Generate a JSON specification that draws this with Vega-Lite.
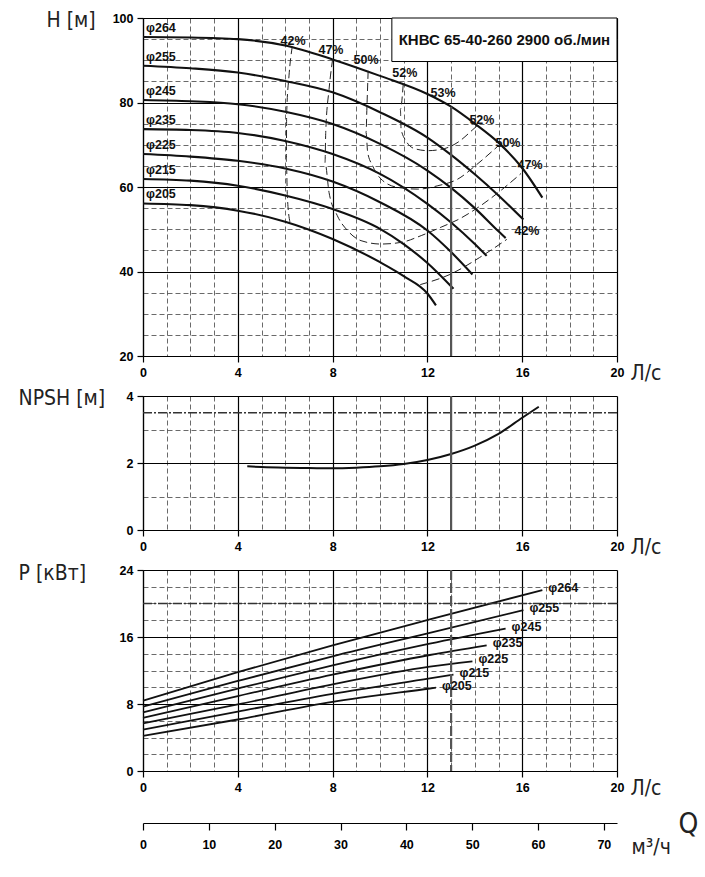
{
  "$schema": "https://vega.github.io/schema/vega-lite/v6.json",
  "background": "white",
  "padding": {"left": 18, "top": 9, "right": 5, "bottom": 5},
  "bounds": "flush",
  "spacing": 40,
  "datasets": {
    "H": [
      {"d": "φ264", "q": 0, "h": 95.5}, {"d": "φ264", "q": 2, "h": 95.4}, {"d": "φ264", "q": 4, "h": 95.0}, {"d": "φ264", "q": 6, "h": 93.5},
      {"d": "φ264", "q": 8, "h": 90.2}, {"d": "φ264", "q": 10, "h": 86.3}, {"d": "φ264", "q": 12, "h": 82.0}, {"d": "φ264", "q": 13, "h": 79.0},
      {"d": "φ264", "q": 14, "h": 75.0}, {"d": "φ264", "q": 15, "h": 70.5}, {"d": "φ264", "q": 16, "h": 64.5}, {"d": "φ264", "q": 16.85, "h": 57.5},
      {"d": "φ255", "q": 0, "h": 88.7}, {"d": "φ255", "q": 2, "h": 88.1}, {"d": "φ255", "q": 4, "h": 87.1}, {"d": "φ255", "q": 6, "h": 85.1},
      {"d": "φ255", "q": 8, "h": 82.4}, {"d": "φ255", "q": 10, "h": 77.7}, {"d": "φ255", "q": 12, "h": 71.7}, {"d": "φ255", "q": 13, "h": 67.6},
      {"d": "φ255", "q": 14, "h": 63.0}, {"d": "φ255", "q": 15, "h": 58.0}, {"d": "φ255", "q": 16.05, "h": 52.3},
      {"d": "φ245", "q": 0, "h": 80.6}, {"d": "φ245", "q": 2, "h": 80.3}, {"d": "φ245", "q": 4, "h": 79.6}, {"d": "φ245", "q": 6, "h": 77.8},
      {"d": "φ245", "q": 8, "h": 74.9}, {"d": "φ245", "q": 10, "h": 70.2}, {"d": "φ245", "q": 12, "h": 63.9}, {"d": "φ245", "q": 13, "h": 59.8},
      {"d": "φ245", "q": 14, "h": 55.0}, {"d": "φ245", "q": 15, "h": 49.5}, {"d": "φ245", "q": 15.3, "h": 47.9},
      {"d": "φ235", "q": 0, "h": 73.7}, {"d": "φ235", "q": 2, "h": 73.5}, {"d": "φ235", "q": 4, "h": 72.8}, {"d": "φ235", "q": 6, "h": 70.9},
      {"d": "φ235", "q": 8, "h": 67.8}, {"d": "φ235", "q": 10, "h": 63.1}, {"d": "φ235", "q": 12, "h": 56.0}, {"d": "φ235", "q": 13, "h": 51.6},
      {"d": "φ235", "q": 14, "h": 46.5}, {"d": "φ235", "q": 14.5, "h": 43.7},
      {"d": "φ225", "q": 0, "h": 67.8}, {"d": "φ225", "q": 2, "h": 67.2}, {"d": "φ225", "q": 4, "h": 66.2}, {"d": "φ225", "q": 6, "h": 64.4},
      {"d": "φ225", "q": 8, "h": 61.3}, {"d": "φ225", "q": 10, "h": 56.4}, {"d": "φ225", "q": 12, "h": 49.7}, {"d": "φ225", "q": 13, "h": 44.6},
      {"d": "φ225", "q": 13.9, "h": 39.3},
      {"d": "φ215", "q": 0, "h": 61.9}, {"d": "φ215", "q": 2, "h": 61.5}, {"d": "φ215", "q": 4, "h": 60.3}, {"d": "φ215", "q": 6, "h": 58.0},
      {"d": "φ215", "q": 8, "h": 54.8}, {"d": "φ215", "q": 10, "h": 50.1}, {"d": "φ215", "q": 11, "h": 46.5}, {"d": "φ215", "q": 12, "h": 42.0},
      {"d": "φ215", "q": 13.1, "h": 35.9},
      {"d": "φ205", "q": 0, "h": 56.1}, {"d": "φ205", "q": 2, "h": 55.7}, {"d": "φ205", "q": 4, "h": 54.4}, {"d": "φ205", "q": 6, "h": 51.8},
      {"d": "φ205", "q": 8, "h": 47.7}, {"d": "φ205", "q": 10, "h": 42.2}, {"d": "φ205", "q": 11, "h": 38.9}, {"d": "φ205", "q": 12, "h": 34.8},
      {"d": "φ205", "q": 12.36, "h": 32.0}
    ],
    "eff": [
      {"c": "42L", "i": 0, "q": 6.3, "h": 93.3}, {"c": "42L", "i": 1, "q": 6.16, "h": 86.3}, {"c": "42L", "i": 2, "q": 6.06, "h": 77.0},
      {"c": "42L", "i": 3, "q": 6.05, "h": 66.0}, {"c": "42L", "i": 4, "q": 6.09, "h": 58.0}, {"c": "42L", "i": 5, "q": 6.2, "h": 51.7},
      {"c": "47", "i": 0, "q": 8.0, "h": 90.2}, {"c": "47", "i": 1, "q": 7.85, "h": 83.1}, {"c": "47", "i": 2, "q": 7.71, "h": 72.9},
      {"c": "47", "i": 3, "q": 7.68, "h": 65.8}, {"c": "47", "i": 4, "q": 7.85, "h": 58.7}, {"c": "47", "i": 5, "q": 8.2, "h": 53.2},
      {"c": "47", "i": 6, "q": 8.63, "h": 49.7}, {"c": "47", "i": 7, "q": 9.2, "h": 47.3}, {"c": "47", "i": 8, "q": 10.04, "h": 46.5},
      {"c": "47", "i": 9, "q": 10.9, "h": 46.9}, {"c": "47", "i": 10, "q": 11.74, "h": 48.5}, {"c": "47", "i": 11, "q": 12.58, "h": 50.5},
      {"c": "47", "i": 12, "q": 13.3, "h": 52.3}, {"c": "47", "i": 13, "q": 14.2, "h": 55.4}, {"c": "47", "i": 14, "q": 15.06, "h": 59.0},
      {"c": "47", "i": 15, "q": 15.95, "h": 63.2},
      {"c": "50", "i": 0, "q": 9.5, "h": 87.5}, {"c": "50", "i": 1, "q": 9.45, "h": 79.2}, {"c": "50", "i": 2, "q": 9.41, "h": 72.9},
      {"c": "50", "i": 3, "q": 9.48, "h": 68.2}, {"c": "50", "i": 4, "q": 9.69, "h": 65.0}, {"c": "50", "i": 5, "q": 10.04, "h": 61.9},
      {"c": "50", "i": 6, "q": 10.75, "h": 59.9}, {"c": "50", "i": 7, "q": 11.6, "h": 59.5}, {"c": "50", "i": 8, "q": 12.44, "h": 60.3},
      {"c": "50", "i": 9, "q": 13.29, "h": 61.9}, {"c": "50", "i": 10, "q": 14.08, "h": 65.3}, {"c": "50", "i": 11, "q": 15.0, "h": 69.8},
      {"c": "52", "i": 0, "q": 10.98, "h": 84.3}, {"c": "52", "i": 1, "q": 10.86, "h": 78.4}, {"c": "52", "i": 2, "q": 10.89, "h": 73.7},
      {"c": "52", "i": 3, "q": 11.1, "h": 70.9}, {"c": "52", "i": 4, "q": 11.45, "h": 69.1}, {"c": "52", "i": 5, "q": 12.02, "h": 68.6},
      {"c": "52", "i": 6, "q": 12.73, "h": 69.1}, {"c": "52", "i": 7, "q": 13.29, "h": 70.6}, {"c": "52", "i": 8, "q": 13.92, "h": 73.6},
      {"c": "52", "i": 9, "q": 14.1, "h": 74.5},
      {"c": "42R", "i": 0, "q": 11.7, "h": 36.9}, {"c": "42R", "i": 1, "q": 12.95, "h": 39.3}, {"c": "42R", "i": 2, "q": 14.2, "h": 43.3},
      {"c": "42R", "i": 3, "q": 15.35, "h": 47.6}
    ],
    "efflab": [
      {"t": "42%", "q": 6.33, "h": 94.6}, {"t": "47%", "q": 7.93, "h": 92.4}, {"t": "50%", "q": 9.41, "h": 90.1},
      {"t": "52%", "q": 11.05, "h": 87.0}, {"t": "53%", "q": 12.66, "h": 82.2}, {"t": "52%", "q": 14.3, "h": 75.9},
      {"t": "50%", "q": 15.4, "h": 70.4}, {"t": "47%", "q": 16.33, "h": 65.2}, {"t": "42%", "q": 16.2, "h": 49.6}
    ],
    "NPSH": [
      {"q": 4.4, "n": 1.9}, {"q": 5, "n": 1.88}, {"q": 6, "n": 1.86}, {"q": 7, "n": 1.85}, {"q": 8, "n": 1.84},
      {"q": 9, "n": 1.86}, {"q": 10, "n": 1.9}, {"q": 11, "n": 1.97}, {"q": 12, "n": 2.09}, {"q": 13, "n": 2.27},
      {"q": 14, "n": 2.52}, {"q": 15, "n": 2.87}, {"q": 16, "n": 3.35}, {"q": 16.7, "n": 3.68}
    ],
    "P": [
      {"d": "φ264", "q": 0, "p": 8.4}, {"d": "φ264", "q": 4, "p": 11.8}, {"d": "φ264", "q": 8, "p": 15.0}, {"d": "φ264", "q": 12.1, "p": 18.1}, {"d": "φ264", "q": 16.85, "p": 21.6},
      {"d": "φ255", "q": 0, "p": 7.7}, {"d": "φ255", "q": 4, "p": 10.75}, {"d": "φ255", "q": 8, "p": 13.7}, {"d": "φ255", "q": 12.1, "p": 16.5}, {"d": "φ255", "q": 16.05, "p": 19.2},
      {"d": "φ245", "q": 0, "p": 7.0}, {"d": "φ245", "q": 4, "p": 9.85}, {"d": "φ245", "q": 8, "p": 12.6}, {"d": "φ245", "q": 12.1, "p": 15.2}, {"d": "φ245", "q": 15.3, "p": 17.0},
      {"d": "φ235", "q": 0, "p": 6.35}, {"d": "φ235", "q": 4, "p": 8.95}, {"d": "φ235", "q": 8, "p": 11.5}, {"d": "φ235", "q": 12.1, "p": 13.85}, {"d": "φ235", "q": 14.5, "p": 15.0},
      {"d": "φ225", "q": 0, "p": 5.7}, {"d": "φ225", "q": 4, "p": 7.95}, {"d": "φ225", "q": 8, "p": 10.35}, {"d": "φ225", "q": 12.1, "p": 12.45}, {"d": "φ225", "q": 13.9, "p": 13.1},
      {"d": "φ215", "q": 0, "p": 4.95}, {"d": "φ215", "q": 4, "p": 7.1}, {"d": "φ215", "q": 8, "p": 9.2}, {"d": "φ215", "q": 12.1, "p": 11.05}, {"d": "φ215", "q": 13.1, "p": 11.5},
      {"d": "φ205", "q": 0, "p": 4.2}, {"d": "φ205", "q": 4, "p": 6.15}, {"d": "φ205", "q": 8, "p": 8.25}, {"d": "φ205", "q": 12.1, "p": 9.85}, {"d": "φ205", "q": 12.36, "p": 9.95}
    ]
  },
  "config": {
    "view": {"stroke": null},
    "axis": {
      "domainColor": "#000",
      "domainWidth": 1.2,
      "tickColor": "#000",
      "tickSize": 6,
      "tickWidth": 1.2,
      "tickCount": 60,
      "format": "d",
      "labelFont": "Liberation Sans",
      "labelFontWeight": "bold",
      "labelFontSize": 12.5,
      "labelColor": "#000",
      "labelPadding": 4,
      "labelFlush": false,
      "labelOverlap": false,
      "titleFont": "DejaVu Sans Condensed, Liberation Sans, sans-serif",
      "titleFontWeight": "normal",
      "titleFontSize": 21,
      "titleColor": "#222",
      "titleAngle": 0,
      "titleAlign": "left",
      "titleBaseline": "middle"
    }
  },
  "vconcat": [
    {
      "width": 474,
      "height": 338,
      "layer": [
        {
          "data": {"name": "H"},
          "mark": {"type": "line", "color": "#111", "strokeWidth": 2.1, "interpolate": "monotone"},
          "encoding": {
            "x": {
              "field": "q", "type": "quantitative",
              "scale": {"domain": [0, 20], "nice": false},
              "axis": {
                "grid": true, "tickCount": 60, "format": "d",
                "values": [0, 1, 2, 3, 4, 5, 6, 7, 8, 9, 10, 11, 12, 13, 14, 15, 16, 17, 18, 19, 20],
                "labelExpr": "datum.value % 4 === 0 ? datum.label : ''",
                "gridDash": {"condition": {"test": "datum.value % 4 === 0", "value": []}, "value": [5, 3]},
                "gridColor": {"condition": {"test": "datum.value % 4 === 0", "value": "#000"}, "value": "#444"},
                "gridWidth": {"condition": {"test": "datum.value % 4 === 0", "value": 1.2}, "value": 0.8},
                "gridOpacity": 1,
                "tickOpacity": {"condition": {"test": "datum.value % 4 === 0", "value": 1}, "value": 0},
                "title": "Л/с", "titleX": 487, "titleY": 17
              }
            },
            "y": {
              "field": "h", "type": "quantitative",
              "scale": {"domain": [20, 100], "nice": false},
              "axis": {
                "grid": true, "tickCount": 60, "format": "d",
                "values": [20, 25, 30, 35, 40, 45, 50, 55, 60, 65, 70, 75, 80, 85, 90, 95, 100],
                "labelExpr": "datum.value % 20 === 0 ? datum.label : ''",
                "gridDash": {"condition": {"test": "datum.value % 20 === 0", "value": []}, "value": [5, 3]},
                "gridColor": {"condition": {"test": "datum.value % 20 === 0", "value": "#000"}, "value": "#444"},
                "gridWidth": {"condition": {"test": "datum.value % 20 === 0", "value": 1.2}, "value": 0.8},
                "gridOpacity": 1,
                "tickOpacity": {"condition": {"test": "datum.value % 20 === 0", "value": 1}, "value": 0},
                "title": "H [м]", "titleX": -97, "titleY": 2
              }
            },
            "detail": {"field": "d"}
          }
        },
        {
          "data": {"values": [{}]},
          "mark": {"type": "rule", "color": "#555", "strokeWidth": 2.2},
          "encoding": {"x": {"datum": 13, "type": "quantitative"}, "y": {"datum": 20, "type": "quantitative"}, "y2": {"datum": 79}}
        },
        {
          "data": {"name": "eff"},
          "mark": {"type": "line", "color": "#222", "strokeWidth": 1, "strokeDash": [8, 4], "interpolate": "monotone"},
          "encoding": {
            "x": {"field": "q", "type": "quantitative"},
            "y": {"field": "h", "type": "quantitative"},
            "detail": {"field": "c"},
            "order": {"field": "i"}
          }
        },
        {
          "data": {"values": [{}]},
          "mark": {"type": "rect", "fill": "white", "stroke": "#000", "strokeWidth": 1},
          "encoding": {
            "x": {"datum": 10.5, "type": "quantitative"}, "x2": {"datum": 20},
            "y": {"datum": 89.7, "type": "quantitative"}, "y2": {"datum": 100}
          }
        },
        {
          "data": {"values": [{}]},
          "mark": {"type": "text", "font": "Liberation Sans", "fontWeight": "bold", "fontSize": 15, "color": "#111", "align": "center", "baseline": "middle", "text": "КНВС 65-40-260 2900 об./мин"},
          "encoding": {"x": {"datum": 15.25, "type": "quantitative"}, "y": {"datum": 94.85, "type": "quantitative"}}
        },
        {
          "data": {"name": "H"},
          "transform": [{"filter": "datum.q === 0"}],
          "mark": {"type": "text", "font": "Liberation Sans", "fontWeight": "bold", "fontSize": 12.5, "color": "#111", "align": "left", "baseline": "bottom", "dx": 3, "dy": -2},
          "encoding": {
            "x": {"field": "q", "type": "quantitative"},
            "y": {"field": "h", "type": "quantitative"},
            "text": {"field": "d"}
          }
        },
        {
          "data": {"name": "efflab"},
          "mark": {"type": "text", "font": "Liberation Sans", "fontWeight": "bold", "fontSize": 12.5, "color": "#111", "align": "center", "baseline": "middle"},
          "encoding": {
            "x": {"field": "q", "type": "quantitative"},
            "y": {"field": "h", "type": "quantitative"},
            "text": {"field": "t"}
          }
        }
      ]
    },
    {
      "width": 474,
      "height": 134,
      "layer": [
        {
          "data": {"name": "NPSH"},
          "mark": {"type": "line", "color": "#111", "strokeWidth": 2, "interpolate": "monotone"},
          "encoding": {
            "x": {
              "field": "q", "type": "quantitative",
              "scale": {"domain": [0, 20], "nice": false},
              "axis": {
                "grid": true, "tickCount": 60, "format": "d",
                "values": [0, 1, 2, 3, 4, 5, 6, 7, 8, 9, 10, 11, 12, 13, 14, 15, 16, 17, 18, 19, 20],
                "labelExpr": "datum.value % 4 === 0 ? datum.label : ''",
                "gridDash": {"condition": {"test": "datum.value % 4 === 0", "value": []}, "value": [5, 3]},
                "gridColor": {"condition": {"test": "datum.value % 4 === 0", "value": "#000"}, "value": "#444"},
                "gridWidth": {"condition": {"test": "datum.value % 4 === 0", "value": 1.2}, "value": 0.8},
                "gridOpacity": 1,
                "tickOpacity": {"condition": {"test": "datum.value % 4 === 0", "value": 1}, "value": 0},
                "title": "Л/с", "titleX": 487, "titleY": 17
              }
            },
            "y": {
              "field": "n", "type": "quantitative",
              "scale": {"domain": [0, 4], "nice": false},
              "axis": {
                "grid": true, "tickCount": 60, "format": "d",
                "values": [0, 0.5, 1, 1.5, 2, 2.5, 3, 3.5, 4],
                "labelExpr": "datum.value % 2 === 0 ? datum.label : ''",
                "gridDash": {"condition": {"test": "datum.value % 2 === 0", "value": []}, "value": [5, 3]},
                "gridColor": {"condition": {"test": "datum.value % 2 === 0", "value": "#000"}, "value": "#444"},
                "gridWidth": {"condition": {"test": "datum.value % 2 === 0", "value": 1.2}, "value": 0.8},
                "gridOpacity": 1,
                "tickOpacity": {"condition": {"test": "datum.value % 2 === 0", "value": 1}, "value": 0},
                "title": "NPSH [м]", "titleX": -125, "titleY": 2
              }
            }
          }
        },
        {
          "data": {"values": [{}]},
          "mark": {"type": "rule", "color": "#333", "strokeWidth": 1.6, "strokeDash": [9, 2, 2, 2]},
          "encoding": {"y": {"datum": 3.5, "type": "quantitative"}}
        },
        {
          "data": {"values": [{}]},
          "mark": {"type": "rule", "color": "#555", "strokeWidth": 2.2},
          "encoding": {"x": {"datum": 13, "type": "quantitative"}}
        }
      ]
    },
    {
      "width": 474,
      "height": 201,
      "layer": [
        {
          "data": {"name": "P"},
          "mark": {"type": "line", "color": "#111", "strokeWidth": 1.8, "interpolate": "monotone"},
          "encoding": {
            "x": {
              "field": "q", "type": "quantitative",
              "scale": {"domain": [0, 20], "nice": false},
              "axis": {
                "grid": true, "tickCount": 60, "format": "d",
                "values": [0, 1, 2, 3, 4, 5, 6, 7, 8, 9, 10, 11, 12, 13, 14, 15, 16, 17, 18, 19, 20],
                "labelExpr": "datum.value % 4 === 0 ? datum.label : ''",
                "gridDash": {"condition": {"test": "datum.value % 4 === 0", "value": []}, "value": [5, 3]},
                "gridColor": {"condition": {"test": "datum.value % 4 === 0", "value": "#000"}, "value": "#444"},
                "gridWidth": {"condition": {"test": "datum.value % 4 === 0", "value": 1.2}, "value": 0.8},
                "gridOpacity": 1,
                "tickOpacity": {"condition": {"test": "datum.value % 4 === 0", "value": 1}, "value": 0},
                "title": "Л/с", "titleX": 487, "titleY": 17
              }
            },
            "y": {
              "field": "p", "type": "quantitative",
              "scale": {"domain": [0, 24], "nice": false},
              "axis": {
                "grid": true, "tickCount": 60, "format": "d",
                "values": [0, 2, 4, 6, 8, 10, 12, 14, 16, 18, 20, 22, 24],
                "labelExpr": "datum.value % 8 === 0 ? datum.label : ''",
                "gridDash": {"condition": {"test": "datum.value % 8 === 0", "value": []}, "value": [5, 3]},
                "gridColor": {"condition": {"test": "datum.value % 8 === 0", "value": "#000"}, "value": "#444"},
                "gridWidth": {"condition": {"test": "datum.value % 8 === 0", "value": 1.2}, "value": 0.8},
                "gridOpacity": 1,
                "tickOpacity": {"condition": {"test": "datum.value % 8 === 0", "value": 1}, "value": 0},
                "title": "P [кВт]", "titleX": -125, "titleY": 3
              }
            },
            "detail": {"field": "d"}
          }
        },
        {
          "data": {"values": [{}]},
          "mark": {"type": "rule", "color": "#333", "strokeWidth": 1.6, "strokeDash": [9, 2, 2, 2]},
          "encoding": {"y": {"datum": 20, "type": "quantitative"}}
        },
        {
          "data": {"values": [{}]},
          "mark": {"type": "rule", "color": "#555", "strokeWidth": 2.2, "strokeDash": [10, 3]},
          "encoding": {"x": {"datum": 13, "type": "quantitative"}}
        },
        {
          "data": {"name": "P"},
          "transform": [{"aggregate": [{"op": "argmax", "field": "q", "as": "last"}], "groupby": ["d"]}],
          "mark": {"type": "text", "font": "Liberation Sans", "fontWeight": "bold", "fontSize": 12.5, "color": "#111", "align": "left", "baseline": "middle", "dx": 6, "dy": -2},
          "encoding": {
            "x": {"field": "last.q", "type": "quantitative"},
            "y": {"field": "last.p", "type": "quantitative"},
            "text": {"field": "d"}
          }
        }
      ]
    },
    {
      "width": 474,
      "height": 12,
      "data": {"values": [{}]},
      "mark": {"type": "point", "opacity": 0},
      "encoding": {
        "x": {
          "datum": 0, "type": "quantitative",
          "scale": {"domain": [0, 72], "nice": false},
          "axis": {
            "orient": "bottom", "grid": false, "format": "d",
            "values": [0, 10, 20, 30, 40, 50, 60, 70],
            "tickSize": 7, "labelPadding": 8,
            "title": "м³/ч", "titleX": 488, "titleY": 24
          }
        },
        "y": {
          "datum": 0, "type": "quantitative",
          "scale": {"domain": [0, 1], "nice": false},
          "axis": {
            "orient": "right", "grid": false,
            "domain": false, "ticks": false, "labels": false,
            "title": "Q", "titleX": 61, "titleY": 13, "titleFontSize": 28
          }
        }
      }
    }
  ]
}
